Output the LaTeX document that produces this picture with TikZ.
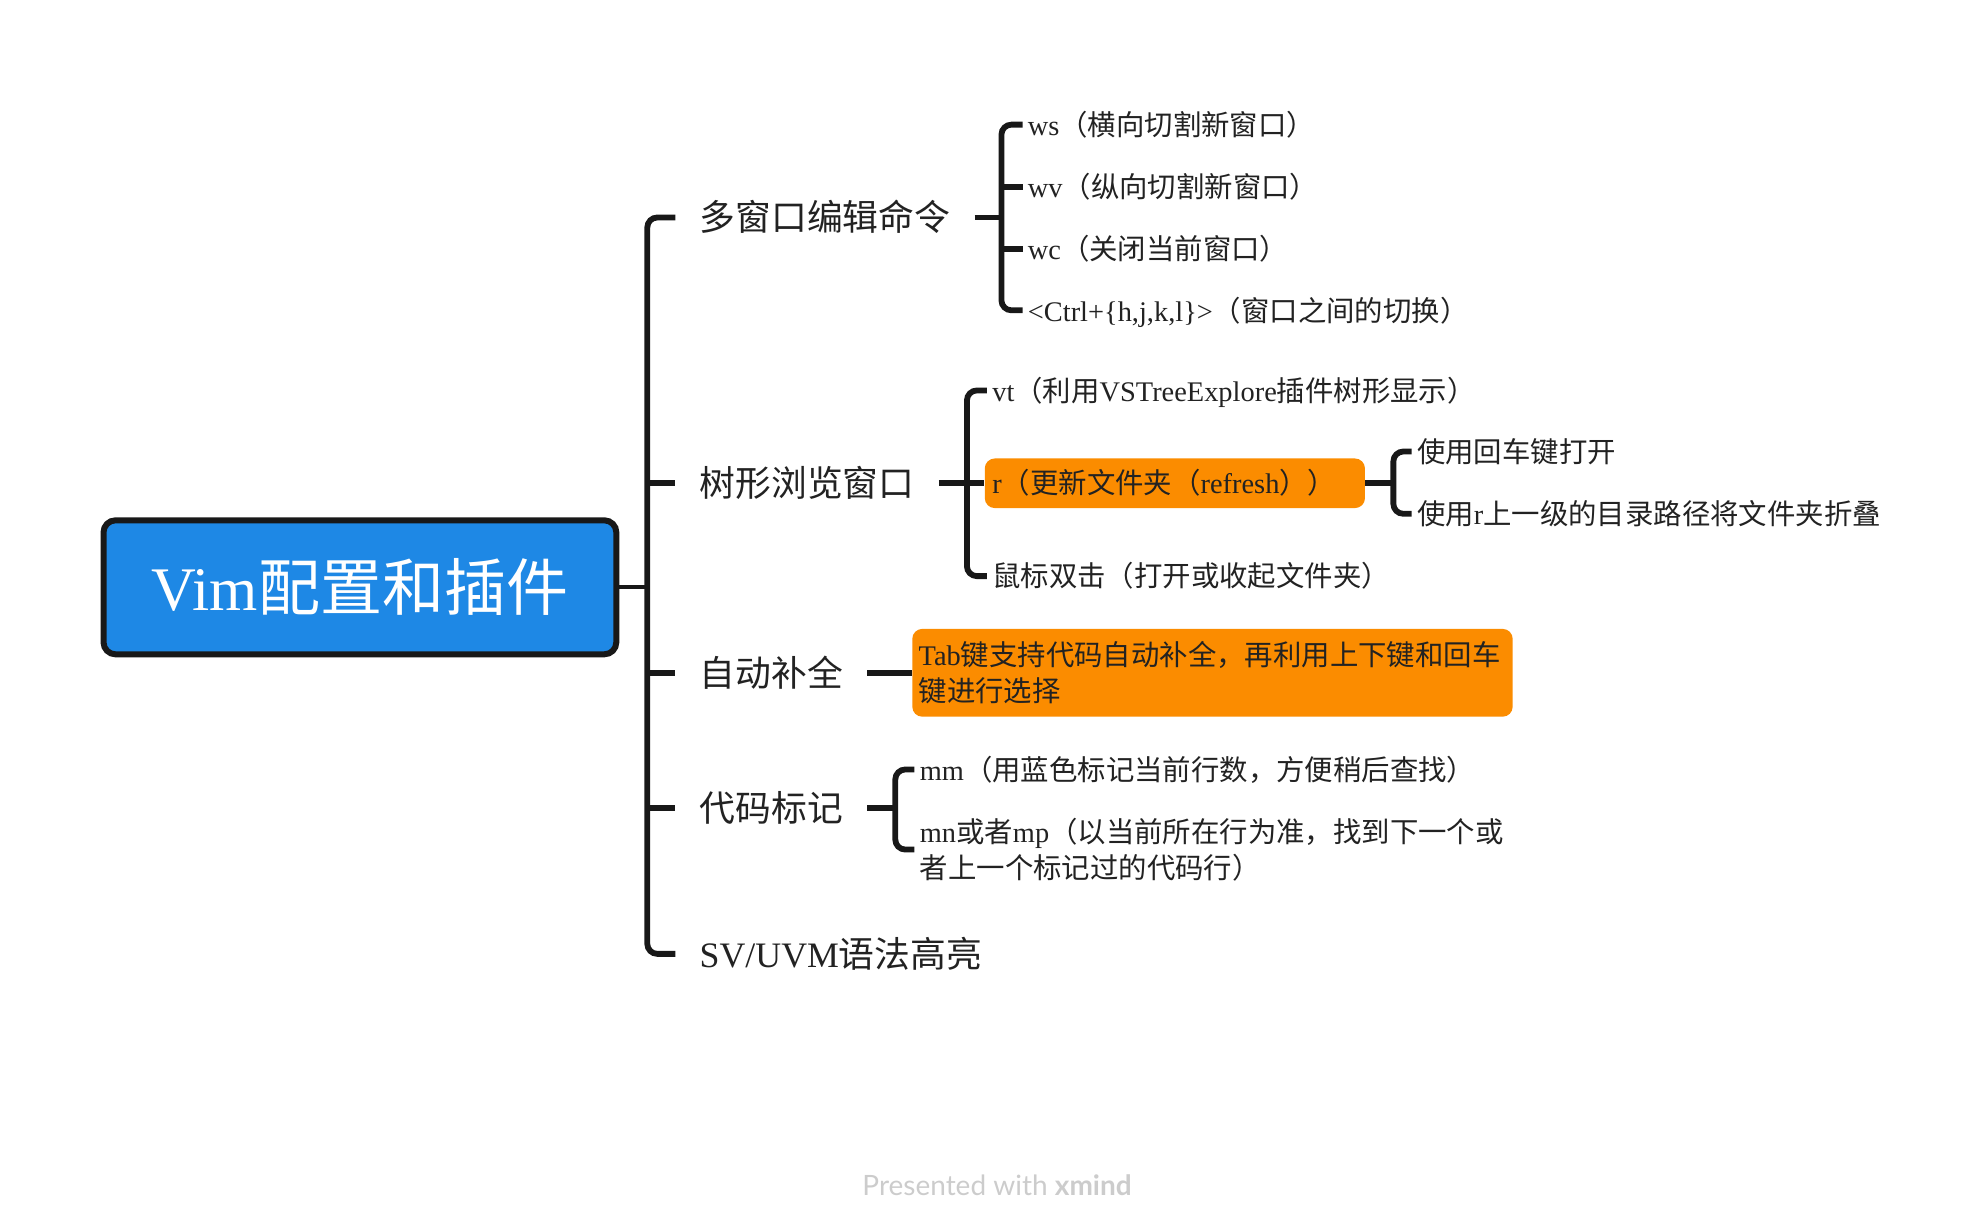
\documentclass[tikz,border=0pt]{standalone}
\usepackage{fontspec}
\setmainfont{Noto Sans CJK SC}
\newfontfamily\lat{Liberation Serif}
\newfontfamily\ftr{Lato}
\usetikzlibrary{calc}
\definecolor{rootblue}{RGB}{30,136,229}
\definecolor{orng}{RGB}{251,140,0}
\definecolor{ink}{RGB}{24,24,24}
\definecolor{txt}{RGB}{34,34,34}
\newcommand\La[1]{{\lat #1}}
\begin{document}
\begin{tikzpicture}[x=0.6359pt,y=-0.6359pt,
  conn/.style={draw=ink, line width=2.9pt, rounded corners=5pt},
  lone/.style={anchor=west, inner xsep=12pt, inner ysep=0pt, text=txt,
    font=\fontsize{17.9pt}{22pt}\selectfont, text height=15.2pt, text depth=1.8pt},
  ltwo/.style={anchor=west, inner xsep=2.5pt, inner ysep=0pt, text=txt,
    font=\fontsize{14.2pt}{17.8pt}\selectfont, text height=12.1pt, text depth=1.4pt},
  ltwom/.style={anchor=west, inner xsep=2.5pt, inner ysep=0pt, text=txt, align=left,
    font=\fontsize{14.2pt}{17.8pt}\selectfont},
  obox/.style={anchor=west, fill=orng, rounded corners=5pt, inner xsep=3.8pt, inner ysep=0pt,
    text=txt, align=left, font=\fontsize{14.2pt}{17.8pt}\selectfont},
  rootbox/.style={draw=ink, line width=3pt, fill=rootblue, rounded corners=6pt,
    minimum width=256.4pt, minimum height=67pt, inner sep=0pt, text=white,
    font=\fontsize{31pt}{36pt}\selectfont}
]
\useasboundingbox (2,2) rectangle (1562,969.2);

% root
\node[rootbox] (root) at (285,463.8) {\La{Vim}配置和插件};

% level 1
\node[lone] (L1) at (533,173) {多窗口编辑命令};
\node[lone] (L2) at (533,382) {树形浏览窗口};
\node[lone] (L3) at (533,531) {自动补全};
\node[lone] (L4) at (533,637) {代码标记};
\node[lone] (L5) at (533,752) {\La{SV/UVM}语法高亮};

\coordinate (j0) at ($(root.east)+(22,0)$);
\draw[conn, line width=2pt] (root.east) -- (j0);
\draw[conn] (L1.west) -| (j0) |- (L5.west);
\draw[conn] (j0 |- L2.west) -- (L2.west);
\draw[conn] (j0 |- L3.west) -- (L3.west);
\draw[conn] (j0 |- L4.west) -- (L4.west);

% group 1
\node[ltwo] (m1) at (806,100) {\La{ws}（横向切割新窗口）};
\node[ltwo] (m2) at (806,149) {\La{wv}（纵向切割新窗口）};
\node[ltwo] (m3) at (806,198) {\La{wc}（关闭当前窗口）};
\node[ltwo] (m4) at (806,246) {\La{<Ctrl+\{h,j,k,l\}>}（窗口之间的切换）};
\coordinate (j1) at ($(L1.east)+(21,0)$);
\draw[conn] (L1.east) -- (j1);
\draw[conn] (m1.west) -| (j1) |- (m4.west);
\draw[conn] (j1 |- m2.west) -- (m2.west);
\draw[conn] (j1 |- m3.west) -- (m3.west);

% group 2
\node[ltwo] (t1) at (778,309) {\La{vt}（利用\La{VSTreeExplore}插件树形显示）};
\node[obox, text width=182.5pt, minimum height=24.8pt, text height=12.1pt, text depth=1.4pt]
  (t2) at (776,382) {\La{r}（更新文件夹（\La{refresh}））};
\node[ltwo] (t3) at (778,455) {鼠标双击（打开或收起文件夹）};
\coordinate (j2) at ($(L2.east)+(22,0)$);
\draw[conn] (L2.east) -- (t2.west);
\draw[conn] (t1.west) -| (j2) |- (t3.west);

% group 3
\node[ltwo] (r1) at (1112,357) {使用回车键打开};
\node[ltwo] (r2) at (1112,406) {使用\La{r}上一级的目录路径将文件夹折叠};
\coordinate (j3) at ($(t2.east)+(22,0)$);
\draw[conn] (t2.east) -- (j3);
\draw[conn] (r1.west) -| (j3) |- (r2.west);

% group 4
\node[obox, text width=293.8pt, inner xsep=3.2pt, minimum height=43.9pt]
  (ac) at (719,531) {\La{Tab}键支持代码自动补全，再利用上下键和回车\\键进行选择};
\draw[conn] (L3.east) -- (ac.west);

% group 5
\node[ltwo] (k1) at (721,607) {\La{mm}（用蓝色标记当前行数，方便稍后查找）};
\node[ltwom] (k2) at (721,670) {\La{mn}或者\La{mp}（以当前所在行为准，找到下一个或\\者上一个标记过的代码行）};
\coordinate (j4) at ($(L4.east)+(22,0)$);
\draw[conn] (L4.east) -- (j4);
\draw[conn] (k1.west) -| (j4) |- (k2.west);

% footer
\node[font=\ftr\fontsize{14pt}{16pt}\selectfont, text=black!20] (ftr) at (786,934)
  {Presented with \textbf{xmind}};
\end{tikzpicture}
\end{document}
